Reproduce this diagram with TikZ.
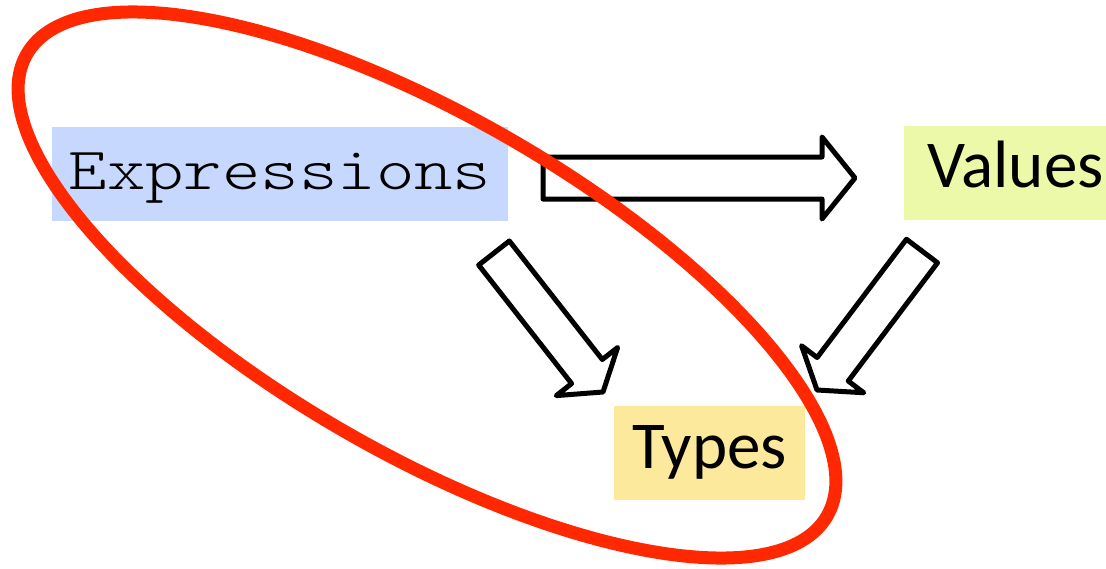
\documentclass[tikz,border=0pt]{standalone}
\usepackage{fontspec}
\setmainfont{Carlito}
\newfontfamily\codefont[FakeStretch=1.22]{Latin Modern Mono Light}
\usetikzlibrary{calc}
\definecolor{exprblue}{RGB}{198,216,253}
\definecolor{valgreen}{RGB}{235,249,168}
\definecolor{typyellow}{RGB}{253,233,155}
\definecolor{ringred}{RGB}{255,40,0}
\tikzset{
	term/.style={
		inner xsep=0pt,
		inner ysep=0pt,
		text height=62pt,
		text depth=32pt,
		font=\fontsize{67}{80}\selectfont,
	},
	code/.style={
		term,
		font=\codefont\fontsize{60}{72}\selectfont,
	},
	block/.style={
		draw,
		fill=white,
		line width=5pt,
		line join=round,
	},
	ring/.style={
		draw=ringred,
		line width=13pt,
	},
}
% hollow block arrow: tail, tip, shaft half width, head half width, head length
\newcommand{\blockarrow}[5]{%
	\coordinate (neck) at ($(#2)!#5!(#1)$);
	\draw[block] ($(#1)!#3!90:(#2)$) -- ($(neck)!#3!-90:(#1)$)
		-- ($(neck)!#4!-90:(#1)$) -- (#2) -- ($(neck)!#4!90:(#1)$)
		-- ($(neck)!#3!90:(#1)$) -- ($(#1)!#3!-90:(#2)$) -- cycle;
}

\begin{document}
\begin{tikzpicture}[x=1pt,y=-1pt]
		\useasboundingbox (0,0) rectangle (1106,568);

		\node[code, fill=exprblue, minimum width=456pt] (expr) at (280,174) {Expressions};
		\node[term, fill=valgreen, anchor=west, inner xsep=23pt] (val) at (904,172.5) {Values};
		\node[term, fill=typyellow, minimum width=191pt] (typ) at (709.5,453) {Types};

		\coordinate (ev-from) at (543,178);
		\coordinate (ev-to) at (855,178);
		\coordinate (et-from) at (494,253);
		\coordinate (et-to) at (603,392);
		\coordinate (vt-from) at (922,251);
		\coordinate (vt-to) at (817,390);

		\blockarrow{ev-from}{ev-to}{21pt}{41pt}{33pt}
		\blockarrow{et-from}{et-to}{19.5pt}{39pt}{26pt}
		\blockarrow{vt-from}{vt-to}{19.5pt}{39pt}{26pt}

		% the ring round expressions and types
		\draw[ring, rotate around={-30:(427,285)}] (427,285) ellipse [x radius=462pt, y radius=168pt];

	\end{tikzpicture}
\end{document}
